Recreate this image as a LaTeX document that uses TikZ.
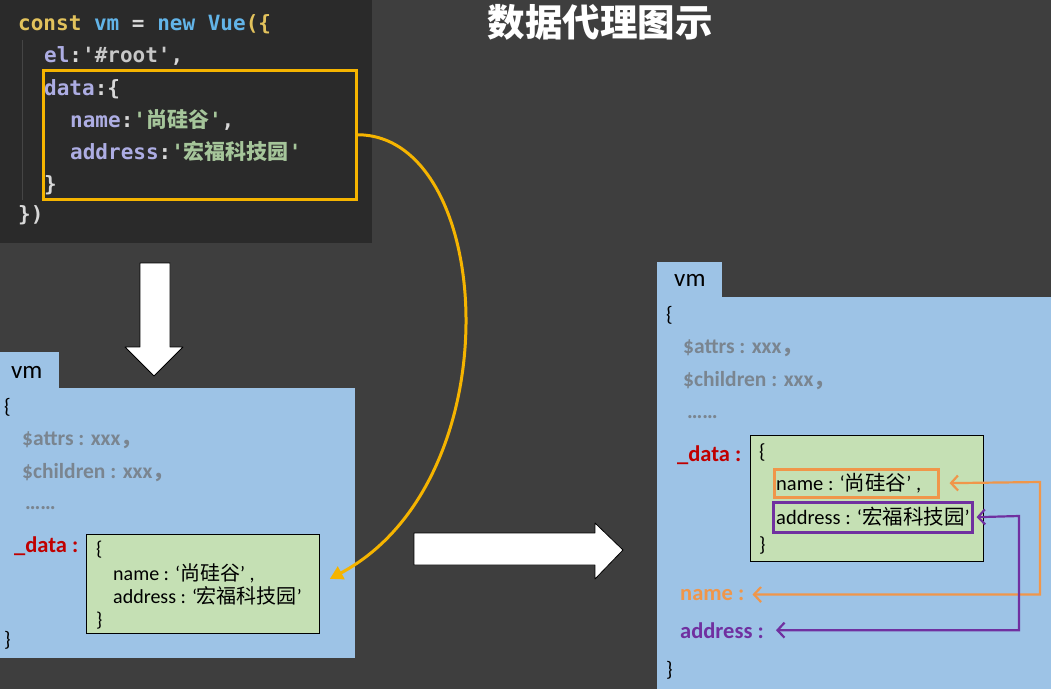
\documentclass[tikz,border=0pt]{standalone}
\usepackage{fontspec}
\setmainfont{Carlito}
\newfontfamily\cjk{Noto Sans CJK SC}
\newfontfamily\monof[Ligatures=TeXOff]{DejaVu Sans Mono}
\usetikzlibrary{arrows.meta}
\definecolor{bgc}{HTML}{3E3E3E}
\definecolor{codebg}{HTML}{2A2A2A}
\definecolor{guide}{HTML}{454545}
\definecolor{blueP}{HTML}{9DC3E6}
\definecolor{greenP}{HTML}{C5E0B4}
\definecolor{grayT}{HTML}{7A8590}
\definecolor{redT}{HTML}{C00000}
\definecolor{orgT}{HTML}{F0964A}
\definecolor{purT}{HTML}{7030A0}
\definecolor{yel}{HTML}{F5B400}
\definecolor{kw}{HTML}{E2C25C}
\definecolor{bl}{HTML}{62B4E8}
\definecolor{key}{HTML}{ADADE3}
\definecolor{str}{HTML}{C8C8C8}
\definecolor{chs}{HTML}{A5C59A}
\definecolor{pun}{HTML}{D8D8D8}
\tikzset{
  code/.style={anchor=base west, inner sep=0pt, text=pun, font=\monof\bfseries\fontsize{21}{24}\selectfont},
  lab/.style={anchor=base west, inner sep=0pt, text=black, font=\fontsize{21}{24}\selectfont},
  graylab/.style={anchor=base west, inner sep=0pt, text=grayT, font=\bfseries\fontsize{21.5}{24}\selectfont},
  boldlab/.style={anchor=base west, inner sep=0pt, font=\bfseries\fontsize{22.5}{25}\selectfont},
  inl/.style={anchor=base west, inner sep=0pt, text=black, font=\fontsize{20}{23}\selectfont},
  inr/.style={anchor=base west, inner sep=0pt, text=black, font=\fontsize{20.5}{23}\selectfont},
  panel/.style={anchor=north west, inner sep=0pt, fill=blueP},
  greenbox/.style={anchor=north west, inner sep=0pt, fill=greenP, draw=black, line width=0.8pt},
  hibox/.style={anchor=north west, inner sep=0pt, line width=2.5pt},
  bigarrow/.style={fill=white, draw=black, line width=0.8pt, line join=round},
  link/.style={line width=2.2pt, {Straight Barb[length=7pt,width=15pt]}-{Straight Barb[length=7pt,width=15pt]}},
}
\begin{document}
\begin{tikzpicture}[x=1pt,y=-1pt]
\useasboundingbox (0,0) rectangle (1051,689);
\fill[bgc] (0,0) rectangle (1051,689);

% code panel
\fill[codebg] (0,0) rectangle (372,243);
\draw[guide, line width=1pt] (22,40) -- (22,200);
\node[code] (c1) at (18,30) {\textcolor{kw}{const} \textcolor{bl}{vm} = \textcolor{bl}{new} \textcolor{bl}{Vue}\textcolor{kw}{(\{}};
\node[code] (c2) at (44,62) {\textcolor{key}{el}:\textcolor{str}{'\#root'},};
\node[code] (c3) at (44,95) {\textcolor{key}{data}:\{};
\node[code] (c4) at (70,127) {\textcolor{key}{name}:\textcolor{chs}{'{\cjk 尚硅谷}'},};
\node[code] (c5) at (70,159) {\textcolor{key}{address}:\textcolor{chs}{'{\cjk 宏福科技园}'}};
\node[code] (c6) at (44,191) {\}};
\node[code] (c7) at (18,221) {\})};
\node[hibox, draw=yel, minimum width=313pt, minimum height=129pt] (databox) at (42,69) {};

% title
\node[inner sep=0pt, text=white, font=\cjk\bfseries\fontsize{37.5}{40}\selectfont] (title) at (600,22) {数据代理图示};

% down arrow
\path[bigarrow] (140,263) -- (170,263) -- (170,347) -- (183,347) -- (154,376) -- (125,347) -- (140,347) -- cycle;

% left vm panel
\node[panel, minimum width=59pt, minimum height=37pt] (tabL) at (0,352) {};
\node[panel, minimum width=355pt, minimum height=270pt] (vmL) at (0,388) {};
\node[lab, font=\fontsize{25}{28}\selectfont] (vmLt) at (11,378) {vm};
\node[lab] (obL) at (4,413) {\{};
\node[graylab] (attrsL) at (22,445) {\$attrs : xxx{\cjk ，}};
\node[graylab] (childL) at (22,478) {\$children : xxx{\cjk ，}};
\node[graylab] (dotsL) at (25,509) {……};
\node[boldlab, text=redT] (dataL) at (14,552) {\_data :};
\node[greenbox, minimum width=233pt, minimum height=99pt] (greenL) at (86,534) {};
\node[inl] (gobL) at (96,555) {\{};
\node[inl] (gnameL) at (113,580) {name : ‘{\cjk 尚硅谷}’ ,};
\node[inl] (gaddrL) at (113,603) {address : ‘{\cjk 宏福科技园}’};
\node[inl] (gcbL) at (96,626) {\}};
\node[lab] (cbL) at (4,646) {\}};

% right arrow
\path[bigarrow] (414,533) -- (595,533) -- (595,523) -- (623,550) -- (595,579) -- (595,565) -- (414,565) -- cycle;

% right vm panel
\node[panel, minimum width=65pt, minimum height=37pt] (tabR) at (657,262) {};
\node[panel, minimum width=394pt, minimum height=392pt] (vmR) at (657,297) {};
\node[lab, font=\fontsize{25}{28}\selectfont] (vmRt) at (674,286) {vm};
\node[lab] (obR) at (666,321) {\{};
\node[graylab] (attrsR) at (683,353) {\$attrs : xxx{\cjk ，}};
\node[graylab] (childR) at (683,386) {\$children : xxx{\cjk ，}};
\node[graylab] (dotsR) at (687,418) {……};
\node[boldlab, text=redT] (dataR) at (677,461) {\_data :};
\node[greenbox, minimum width=233pt, minimum height=126pt] (greenR) at (750,435) {};
\node[inr] (gobR) at (759,458) {\{};
\node[inr] (gnameR) at (776,490) {name : ‘{\cjk 尚硅谷}’ ,};
\node[inr] (gaddrR) at (776,524) {address : ‘{\cjk 宏福科技园}’};
\node[inr] (gcbR) at (759,551) {\}};
\node[hibox, draw=orgT, minimum width=164pt, minimum height=28pt] (nameBox) at (773,468) {};
\node[hibox, draw=purT, minimum width=199pt, minimum height=30pt] (addrBox) at (772,501) {};
\node[boldlab, text=orgT] (nameLbl) at (680,600) {name :};
\node[boldlab, text=purT] (addrLbl) at (680,638) {address :};
\node[lab] (cbR) at (666,676) {\}};

% connectors
\coordinate (oR) at (1040,482);
\coordinate (pR) at (1019,516);
\draw[link, orgT, shorten <=10pt] (nameBox.east) -- (oR) |- ([xshift=8pt]nameLbl.east);
\draw[link, purT, shorten <=3pt] (addrBox.east) -- (pR) |- ([xshift=12pt]addrLbl.east);
\draw[yel, line width=3pt, -{Triangle[length=13pt,width=14pt]}] (databox.east) .. controls (495,135) and (515,480) .. ([shift={(10pt,5pt)}]greenL.east);
\end{tikzpicture}
\end{document}
